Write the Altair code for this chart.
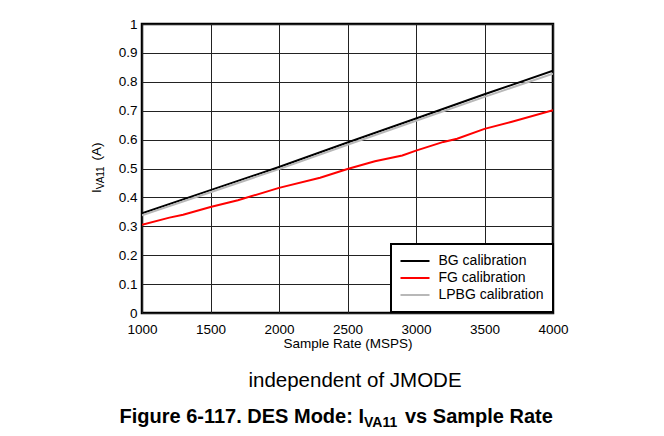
import altair as alt
import pandas as pd

# ---- data ----
x_bg = [1000, 1500, 2000, 2500, 3000, 3500, 4000]
bg_cal = [0.345, 0.425, 0.505, 0.590, 0.673, 0.757, 0.838]
lpbg_cal = [0.338, 0.418, 0.498, 0.582, 0.665, 0.748, 0.828]
x_fg = [1000, 1200, 1300, 1500, 1700, 2000, 2300, 2500, 2700, 2900, 3000, 3200, 3300, 3500, 3700, 4000]
fg_cal = [0.305, 0.330, 0.340, 0.367, 0.390, 0.433, 0.468, 0.498, 0.525, 0.545, 0.562, 0.592, 0.603, 0.637, 0.662, 0.702]

series = ["BG calibration", "FG calibration", "LPBG calibration"]
colors = ["#000000", "#ff0000", "#b8b8b8"]
x_ticks = [1000, 1500, 2000, 2500, 3000, 3500, 4000]
y_ticks = [0, 0.1, 0.2, 0.3, 0.4, 0.5, 0.6, 0.7, 0.8, 0.9, 1]

x_title = "Sample Rate (MSPS)"
y_title_main = "I"
y_title_sub = "VA11"
y_title_unit = "(A)"
subtitle = "independent of JMODE"
caption_a = "Figure 6-117. DES Mode: I"
caption_sub = "VA11"
caption_b = "vs Sample Rate"

rows = []
for xv, yv in zip(x_bg, bg_cal):
    rows.append({"rate": xv, "current": yv, "series": series[0]})
for xv, yv in zip(x_fg, fg_cal):
    rows.append({"rate": xv, "current": yv, "series": series[1]})
for xv, yv in zip(x_bg, lpbg_cal):
    rows.append({"rate": xv, "current": yv, "series": series[2]})
df = pd.DataFrame(rows)

FONT = "Liberation Sans"
W, H = 411, 289

lines = alt.Chart(df).mark_line(strokeWidth=2, clip=True).encode(
    x=alt.X("rate:Q",
            scale=alt.Scale(domain=[1000, 4000], nice=False, zero=False),
            axis=alt.Axis(values=x_ticks, format="d", title=x_title,
                          labelFlush=False, labelOverlap=False,
                          labelPadding=9, titlePadding=1, labelFontSize=13.5,
                          titleFontSize=13.5)),
    y=alt.Y("current:Q",
            scale=alt.Scale(domain=[0, 1], nice=False),
            axis=alt.Axis(values=y_ticks, format="~g", title=None,
                          labelFlush=False, labelOverlap=False,
                          labelPadding=5, labelFontSize=13.5)),
    color=alt.Color("series:N",
                    scale=alt.Scale(domain=series, range=colors),
                    legend=alt.Legend(title=None, orient="none", legendX=249, legendY=220,
                                      symbolType="stroke", symbolSize=841,
                                      symbolStrokeWidth=2, labelFontSize=14,
                                      labelFont=FONT, labelColor="#000000",
                                      labelOffset=8, padding=8.5, clipHeight=17,
                                      rowPadding=0, labelLimit=300,
                                      fillColor="#ffffff", strokeColor="#000000")),
)


def label(txt, x, y, size, weight="normal", align="left", angle=0):
    return alt.Chart(pd.DataFrame({"t": [txt]})).mark_text(
        font=FONT, fontSize=size, fontWeight=weight, align=align,
        baseline="alphabetic", angle=angle, color="#000000"
    ).encode(text="t:N", x=alt.value(x), y=alt.value(y))


# y-axis title (rotated), with subscript
yt1 = label(y_title_main, -41, 169, 13.5, angle=270)
yt2 = label(y_title_sub, -38, 165.3, 10, angle=270)
yt3 = label(y_title_unit, -41, 136.5, 13.5, angle=270)

sub = label(subtitle, 213, 363, 20.5, align="center")
cap1 = label(caption_a, 222, 399, 20, weight="bold", align="right")
cap2 = label(caption_sub, 222, 403, 14, weight="bold")
cap3 = label(caption_b, 263, 399, 20, weight="bold")

chart = alt.layer(lines, yt1, yt2, yt3, sub, cap1, cap2, cap3).properties(
    width=W, height=H,
    autosize=alt.AutoSizeParams(type="none"),
    padding={"left": 134, "top": 16, "right": 103, "bottom": 116},
).configure_view(
    stroke="#000000", strokeWidth=2.5
).configure_axis(
    grid=True, gridColor="#222222", gridWidth=1, domain=False, ticks=False,
    labelFont=FONT, titleFont=FONT, labelColor="#000000", titleColor="#000000",
    titleFontWeight="normal"
).configure_legend(
    strokeWidth=2
)

chart.save("out.html", embed_options={"renderer": "svg", "actions": False})
